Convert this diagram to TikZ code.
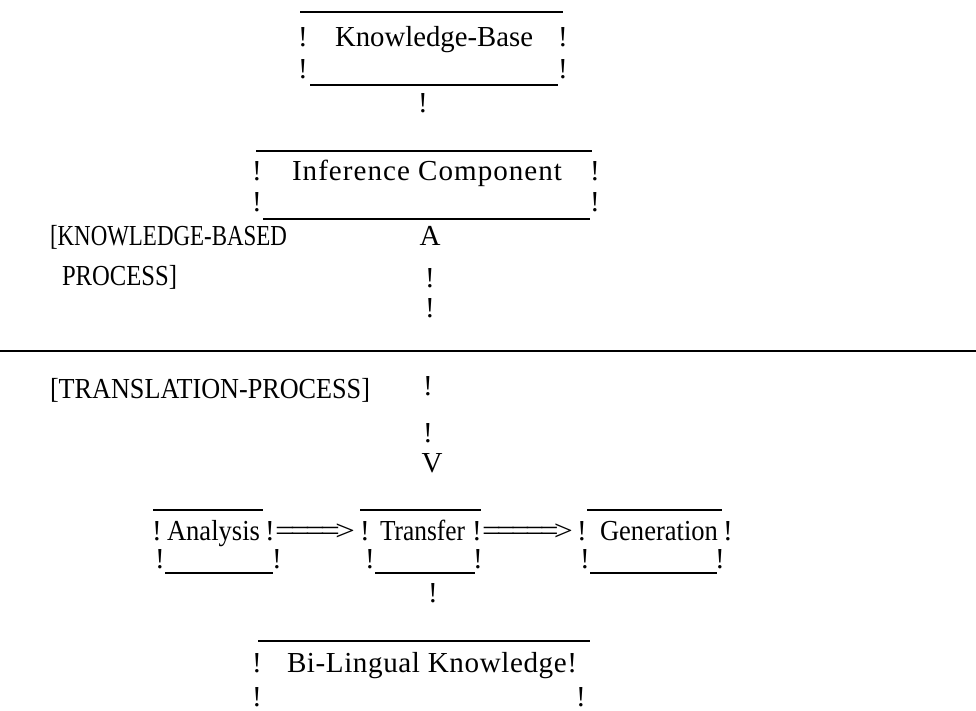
\documentclass[tikz,border=0pt]{standalone}
\usepackage{fontspec}
\setmainfont{Liberation Serif}
\usepackage{graphicx}
\newcommand\fitw[2]{\resizebox{#1pt}{\height}{#2}}
\newcommand\eqk{=\kern-4pt}
\begin{document}
\begin{tikzpicture}[x=1pt,y=-1pt,font=\fontsize{29}{29}\selectfont,
  txt/.style={anchor=base west,inner sep=0pt,outer sep=0pt},
  ex/.style={anchor=base,inner sep=0pt,outer sep=0pt},
  rule/.style={line width=1.3pt,black}]
\useasboundingbox (0,0) rectangle (976,711);
% ---------- Knowledge-Base box
\draw[rule] (300,12) -- (563,12);
\node[ex] (kbla) at (303,47) {!};
\node[txt] (kb) at (335,47) {\fitw{198}{Knowledge-Base}};
\node[ex] (kbra) at (563,47) {!};
\node[ex] (kblb) at (303,79) {!};
\draw[rule] (310,85) -- (558,85);
\node[ex] (kbrb) at (563,79) {!};
\node[ex] (kbdown) at (423,113) {!};
% ---------- Inference Component box
\draw[rule] (256,151) -- (592,151);
\node[ex] (infla) at (257,181) {!};
\node[txt] (inf) at (292,181) {\fitw{270}{\addfontfeature{LetterSpace=3.5}Inference Component}};
\node[ex] (infra) at (595,181) {!};
\node[ex] (inflb) at (257,212) {!};
\draw[rule] (263,219) -- (590,219);
\node[ex] (infrb) at (595,212) {!};
% ---------- left labels and link
\node[txt] (kbp1) at (50,246) {\fitw{237}{[KNOWLEDGE-BASED}};
\node[txt] (kbp2) at (62,285) {\fitw{115}{PROCESS]}};
\node[ex] (up) at (430,246) {A};
\node[ex] (l1) at (430,287) {!};
\node[ex] (l2) at (430,317) {!};
% ---------- separator
\draw[line width=1.3pt] (0,351) -- (976,351);
\node[txt] (tp) at (50,398) {\fitw{320}{[TRANSLATION-PROCESS]}};
\node[ex] (l3) at (428,395) {!};
\node[ex] (l4) at (428,442) {!};
\node[ex] (down) at (432,472) {V};
% ---------- Analysis / Transfer / Generation
\draw[rule] (153,510) -- (263,510);
\draw[rule] (360,510) -- (481,510);
\draw[rule] (587,510) -- (722,510);
\node[ex] (anla) at (157,540) {!};
\node[txt] (an) at (167,540) {\fitw{93}{Analysis}};
\node[ex] (anra) at (270,540) {!};
\node[txt] (ar1) at (275,540) {\fitw{80}{\eqk\eqk\eqk\eqk>}};
\node[ex] (trla) at (365,540) {!};
\node[txt] (tr) at (380,540) {\fitw{85}{Transfer}};
\node[ex] (trra) at (477,540) {!};
\node[txt] (ar2) at (482,540) {\fitw{91}{\eqk\eqk\eqk\eqk\eqk>}};
\node[ex] (gela) at (582,540) {!};
\node[txt] (ge) at (600,540) {\fitw{118}{Generation}};
\node[ex] (gera) at (728,540) {!};
\node[ex] (anlb) at (160,568) {!};
\node[ex] (anrb) at (277,568) {!};
\node[ex] (trlb) at (370,568) {!};
\node[ex] (trrb) at (478,568) {!};
\node[ex] (gelb) at (585,568) {!};
\node[ex] (gerb) at (720,568) {!};
\draw[rule] (165,573) -- (273,573);
\draw[rule] (375,573) -- (475,573);
\draw[rule] (590,573) -- (717,573);
\node[ex] (trdown) at (433,602) {!};
% ---------- Bi-Lingual Knowledge
\draw[rule] (258,641) -- (590,641);
\node[ex] (bila) at (257,672) {!};
\node[txt] (bi) at (287,672) {\fitw{290}{\addfontfeature{LetterSpace=2}Bi-Lingual Knowledge!}};
\node[ex] (bilb) at (257,706) {!};
\node[ex] (birb) at (581,706) {!};
\end{tikzpicture}
\end{document}
